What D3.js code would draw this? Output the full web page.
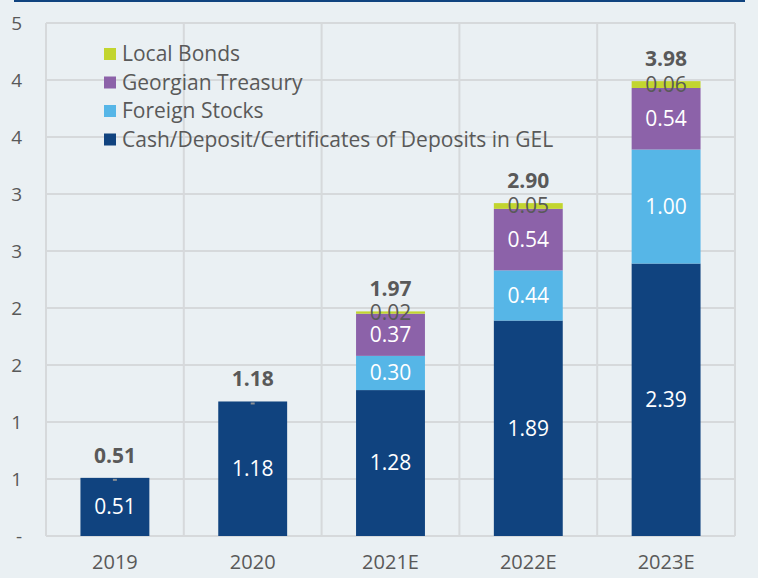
<!DOCTYPE html>
<html>
<head>
<meta charset="utf-8">
<script src="https://cdn.jsdelivr.net/npm/d3@7"></script>
<style>
body { margin: 0; background: #eaf0f3; }
svg { display: block; font-family: "Open Sans", sans-serif; }
</style>
</head>
<body>
<svg width="758" height="578"></svg>
<script>
var years = ["2019", "2020", "2021E", "2022E", "2023E"];
var cash = [0.51, 1.18, 1.28, 1.89, 2.39];
var foreign = [0, 0, 0.30, 0.44, 1.00];
var treasury = [0, 0, 0.37, 0.54, 0.54];
var bonds = [0, 0, 0.02, 0.05, 0.06];
var totals = [0.51, 1.18, 1.97, 2.90, 3.98];
var yTicks = [0, 0.5, 1, 1.5, 2, 2.5, 3, 3.5, 4, 4.5];

var seriesNames = ["Cash/Deposit/Certificates of Deposits in GEL", "Foreign Stocks", "Georgian Treasury", "Local Bonds"];
var seriesColors = ["#10437f", "#56b6e7", "#8c62a9", "#c2d52f"];
var seriesValues = [cash, foreign, treasury, bonds];

var margin = {top: 23, right: 23, bottom: 42, left: 46};
var width = 758 - margin.left - margin.right;
var height = 578 - margin.top - margin.bottom;

var svg = d3.select('svg');

// blue rule at top
svg.append('line')
    .attr('x1', 14).attr('x2', 745)
    .attr('y1', 1).attr('y2', 1)
    .attr('stroke', '#10437f').attr('stroke-width', 2);

var g = svg.append('g')
    .attr('transform', 'translate(' + margin.left + ',' + margin.top + ')');

var xScale = d3.scaleBand().domain(years).range([0, width]).paddingInner(0).paddingOuter(0);
var yScale = d3.scaleLinear().domain([0, 4.5]).range([height, 0]);

// grid
g.selectAll('.hgrid')
    .data(yTicks)
    .enter()
    .append('line')
    .attr('x1', 0).attr('x2', width)
    .attr('y1', d => yScale(d)).attr('y2', d => yScale(d))
    .attr('stroke', '#d6d9db').attr('stroke-width', 2);

g.selectAll('.vgrid')
    .data(years.concat(['end']))
    .enter()
    .append('line')
    .attr('x1', (d, i) => i * xScale.bandwidth()).attr('x2', (d, i) => i * xScale.bandwidth())
    .attr('y1', 0).attr('y2', height)
    .attr('stroke', '#d6d9db').attr('stroke-width', 2);

// stack
var table = years.map(function(y, i) {
    var row = {year: y};
    seriesNames.forEach(function(s, k) { row[s] = seriesValues[k][i]; });
    return row;
});
var stacked = d3.stack().keys(seriesNames)(table);

var barW = xScale.bandwidth() * 0.5;

stacked.forEach(function(layer, k) {
    g.selectAll('.bar' + k)
        .data(layer.filter(d => d[1] - d[0] > 0))
        .enter()
        .append('rect')
        .attr('x', d => xScale(d.data.year) + (xScale.bandwidth() - barW) / 2)
        .attr('width', barW)
        .attr('y', d => yScale(d[1]))
        .attr('height', d => yScale(d[0]) - yScale(d[1]))
        .attr('fill', seriesColors[k]);
});

// segment labels
stacked.forEach(function(layer, k) {
    g.selectAll('.lab' + k)
        .data(layer.filter(d => d[1] - d[0] > 0))
        .enter()
        .append('text')
        .attr('x', d => xScale(d.data.year) + xScale.bandwidth() / 2)
        .attr('y', d => yScale((d[0] + d[1]) / 2))
        .attr('dy', '0.35em')
        .attr('text-anchor', 'middle')
        .attr('font-size', 21)
        .attr('fill', k == 3 ? '#595959' : '#ffffff')
        .text(d => d3.format('.2f')(d[1] - d[0]));
});

// tiny marks for empty segments on top
g.selectAll('.zero')
    .data(years.filter((y, i) => bonds[i] == 0))
    .enter()
    .append('rect')
    .attr('x', d => xScale(d) + xScale.bandwidth() / 2 - 2)
    .attr('y', (d, i) => yScale(totals[years.indexOf(d)]) + 1)
    .attr('width', 4).attr('height', 2)
    .attr('fill', '#8a8f94');

// totals
g.selectAll('.total')
    .data(years)
    .enter()
    .append('text')
    .attr('x', d => xScale(d) + xScale.bandwidth() / 2)
    .attr('y', (d, i) => yScale(d3.sum(seriesValues, s => s[i])) - 15)
    .attr('text-anchor', 'middle')
    .attr('font-size', 21)
    .attr('font-weight', 'bold')
    .attr('fill', '#595959')
    .text((d, i) => d3.format('.2f')(totals[i]));

// axes
var yAxis = d3.axisLeft(yScale).tickValues(yTicks).tickSize(0).tickPadding(0)
    .tickFormat(d => d == 0 ? '-' : String(Math.round(d)));
var yAxisGroup = g.append('g').attr('transform', 'translate(-24,0)').call(yAxis);
yAxisGroup.select('.domain').remove();
yAxisGroup.selectAll('text').attr('font-size', 19).attr('fill', '#595959').attr('font-family', '"Open Sans", sans-serif');

var xAxis = d3.axisBottom(xScale).tickSize(0).tickPadding(19);
var xAxisGroup = g.append('g').attr('transform', 'translate(0,' + height + ')').call(xAxis);
xAxisGroup.select('.domain').remove();
xAxisGroup.selectAll('text').attr('font-size', 20).attr('fill', '#595959').attr('font-family', '"Open Sans", sans-serif');

// legend (top-down order reversed)
var legendOrder = [3, 2, 1, 0];
var legend = svg.append('g').attr('transform', 'translate(104,54)');
legend.selectAll('g')
    .data(legendOrder)
    .enter()
    .append('g')
    .attr('transform', (d, i) => 'translate(0,' + (i * 28.5) + ')')
    .each(function(k) {
        d3.select(this).append('rect')
            .attr('x', 0).attr('y', -6).attr('width', 12).attr('height', 12)
            .attr('fill', seriesColors[k]);
        d3.select(this).append('text')
            .attr('x', 18).attr('y', 0).attr('dy', '0.35em')
            .attr('font-size', 21).attr('fill', '#595959')
            .text(seriesNames[k]);
    });
</script>
</body>
</html>
